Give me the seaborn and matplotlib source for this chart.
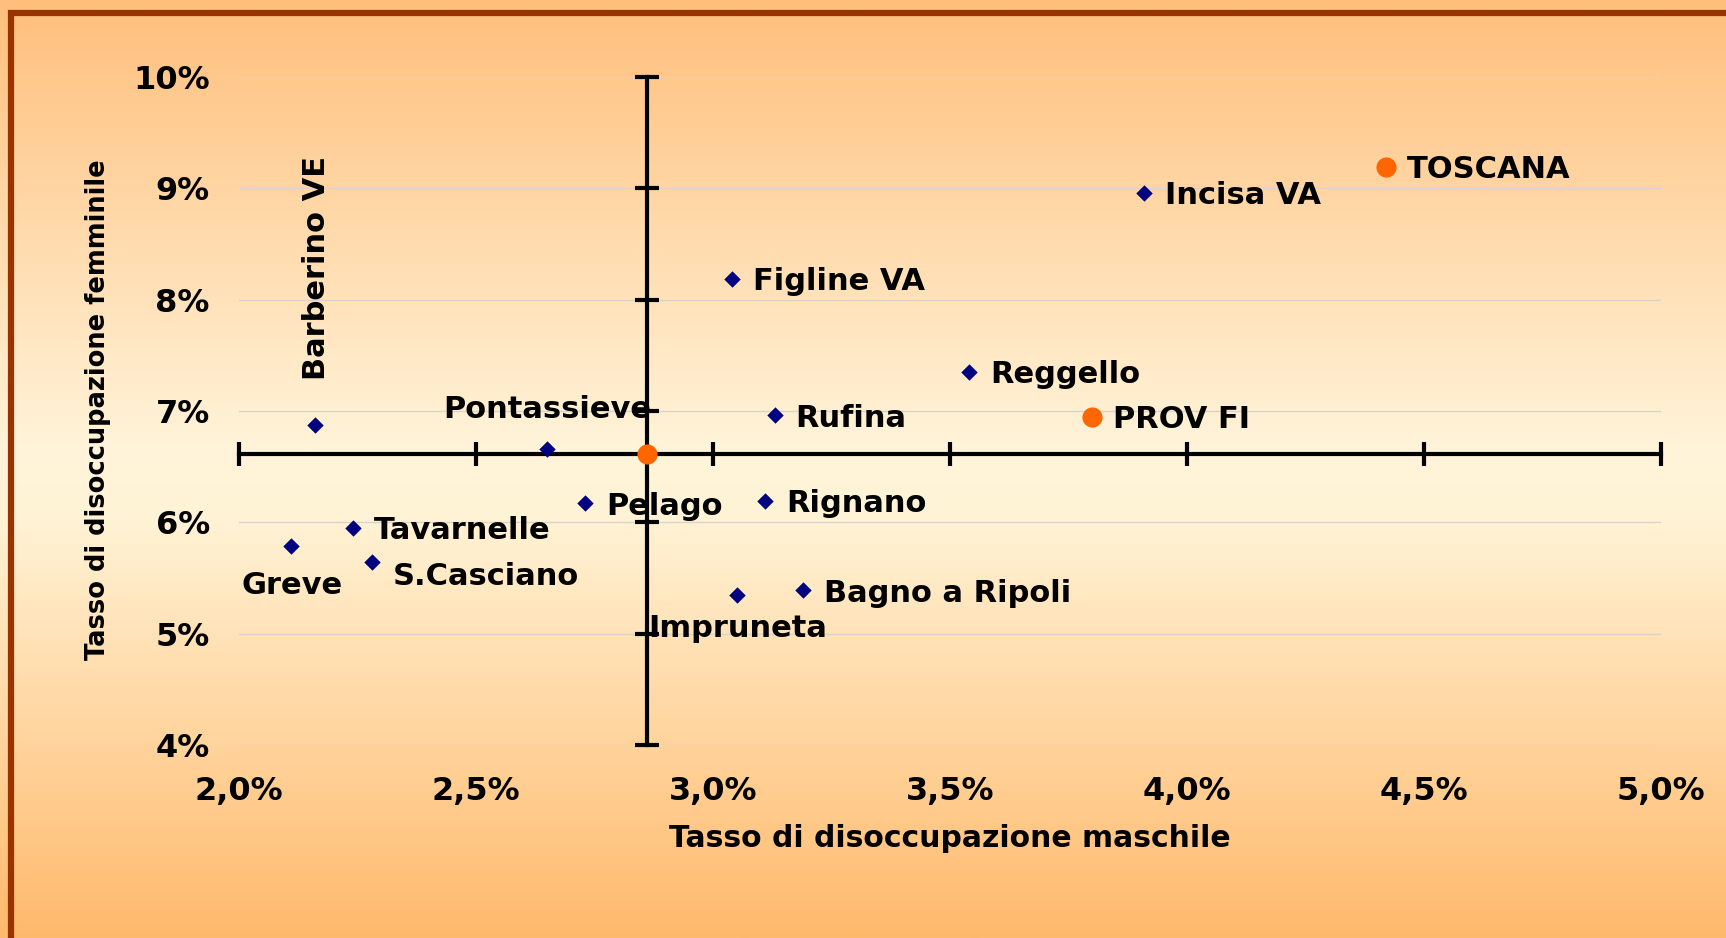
import numpy as np
import pandas as pd
import matplotlib
matplotlib.use("Agg")
import matplotlib.pyplot as plt
import seaborn as sns
from matplotlib.colors import LinearSegmentedColormap
from matplotlib.patches import Rectangle
from matplotlib.ticker import FuncFormatter

# ---------------- data ----------------
comuni = ["Barberino VE", "Pontassieve", "Pelago", "Tavarnelle", "Greve", "S.Casciano",
          "Impruneta", "Bagno a Ripoli", "Rignano", "Rufina", "Figline VA", "Reggello", "Incisa VA"]
tasso_maschile = [2.16, 2.65, 2.73, 2.24, 2.11, 2.28, 3.05, 3.19, 3.11, 3.13, 3.04, 3.54, 3.91]
tasso_femminile = [6.87, 6.66, 6.17, 5.95, 5.79, 5.64, 5.35, 5.39, 6.19, 6.96, 8.19, 7.35, 8.96]

aggregati = ["PROV FI", "TOSCANA", ""]
agg_maschile = [3.80, 4.42, 2.86]
agg_femminile = [6.95, 9.19, 6.61]

x_ticks = [2.0, 2.5, 3.0, 3.5, 4.0, 4.5, 5.0]
y_ticks = [4, 5, 6, 7, 8, 9, 10]
x_title = "Tasso di disoccupazione maschile"
y_title = "Tasso di disoccupazione femminile"

# ---------------- styles / label placement ----------------
NAVY = "#000080"
ORANGE = "#FF6600"
FONT = "DejaVu Sans"
plt.rcParams["font.family"] = [FONT]

# offsets in points; (dx, dy, ha, va, rotation)
right = (15, -2, "left", "center", 0)
label_pos = {
    "Barberino VE": (1, 33, "center", "bottom", 90),
    "Pontassieve": (0, 28, "center", "center", 0),
    "Greve": (1, -29, "center", "center", 0),
    "Impruneta": (1, -24, "center", "center", 0),
    "S.Casciano": (15, -10, "left", "center", 0),
}

W, H = 1726, 938
fig = plt.figure(figsize=(W / 100, H / 100), dpi=100)

# background gradient
bg = fig.add_axes([0, 0, 1, 1], zorder=-10)
cmap = LinearSegmentedColormap.from_list(
    "bg", [(0.0, "#FFBF7C"), (0.48, "#FFF4DA"), (0.55, "#FFF3D6"), (1.0, "#FFB96C")])
grad = np.linspace(0, 1, 600).reshape(-1, 1)
bg.imshow(grad, aspect="auto", cmap=cmap, extent=[0, 1, 0, 1], origin="upper")
bg.set_xlim(0, 1)
bg.set_ylim(0, 1)
bg.axis("off")

# frame border (dark brown)
fig.patches.append(Rectangle((11 / W, -3 / H), 1.05, (938 - 13 + 3) / H,
                             transform=fig.transFigure, fill=False,
                             edgecolor="#993300", linewidth=4.5, zorder=-5))

ax = fig.add_axes([239 / W, (H - 745) / H, 1422 / W, 668 / H])
ax.patch.set_alpha(0)
ax.set_xlim(x_ticks[0], x_ticks[-1])
ax.set_ylim(y_ticks[0], y_ticks[-1])
for s in ax.spines.values():
    s.set_visible(False)

ax.set_xticks(x_ticks)
ax.set_yticks(y_ticks)
ax.xaxis.set_major_formatter(FuncFormatter(lambda v, p: f"{v:.1f}%".replace(".", ",")))
ax.yaxis.set_major_formatter(FuncFormatter(lambda v, p: f"{v:.0f}%"))
ax.tick_params(axis="x", length=0, pad=22, labelsize=23)
ax.tick_params(axis="y", length=0, pad=21, labelsize=23)
for lbl in ax.get_xticklabels() + ax.get_yticklabels():
    lbl.set_fontweight("bold")
ax.yaxis.grid(True, color="#D9D3CC", linewidth=1.0, zorder=0)
ax.xaxis.grid(False)
ax.set_axisbelow(True)

# crossing axes
x_cross = agg_maschile[2]
y_cross = agg_femminile[2]
ax.axhline(y_cross, color="black", linewidth=3, zorder=2, clip_on=False)
ax.axvline(x_cross, color="black", linewidth=3, zorder=2, clip_on=False)
ax.plot(x_ticks, [y_cross] * len(x_ticks), ls="none", marker="|", ms=17, mew=3,
        color="black", zorder=2, clip_on=False)
ax.plot([x_cross] * len(y_ticks), y_ticks, ls="none", marker="_", ms=17, mew=3,
        color="black", zorder=2, clip_on=False)

# points
df_c = pd.DataFrame({"x": tasso_maschile, "y": tasso_femminile, "nome": comuni})
df_a = pd.DataFrame({"x": agg_maschile, "y": agg_femminile, "nome": aggregati})
sns.scatterplot(data=df_c, x="x", y="y", marker="D", s=70, color=NAVY,
                edgecolor=NAVY, linewidth=0, ax=ax, zorder=5, legend=False)
sns.scatterplot(data=df_a, x="x", y="y", marker="o", s=210, color=ORANGE,
                edgecolor=ORANGE, linewidth=0, ax=ax, zorder=6, legend=False)

# labels
for df in (df_c, df_a):
    for _, r in df.iterrows():
        if not r["nome"]:
            continue
        dx, dy, ha, va, rot = label_pos.get(r["nome"], right)
        ax.annotate(r["nome"], (r["x"], r["y"]), xytext=(dx, dy), textcoords="offset points",
                    ha=ha, va=va, rotation=rot, fontsize=22, fontweight="bold",
                    color="black", zorder=7)

ax.set_xlabel(x_title, fontsize=21.5, fontweight="bold")
ax.set_ylabel(y_title, fontsize=18.5, fontweight="bold")
ax.xaxis.set_label_coords(0.5, -0.118)
ax.yaxis.set_label_coords(-0.090, 0.502)

fig.savefig("out.png", dpi=100)
